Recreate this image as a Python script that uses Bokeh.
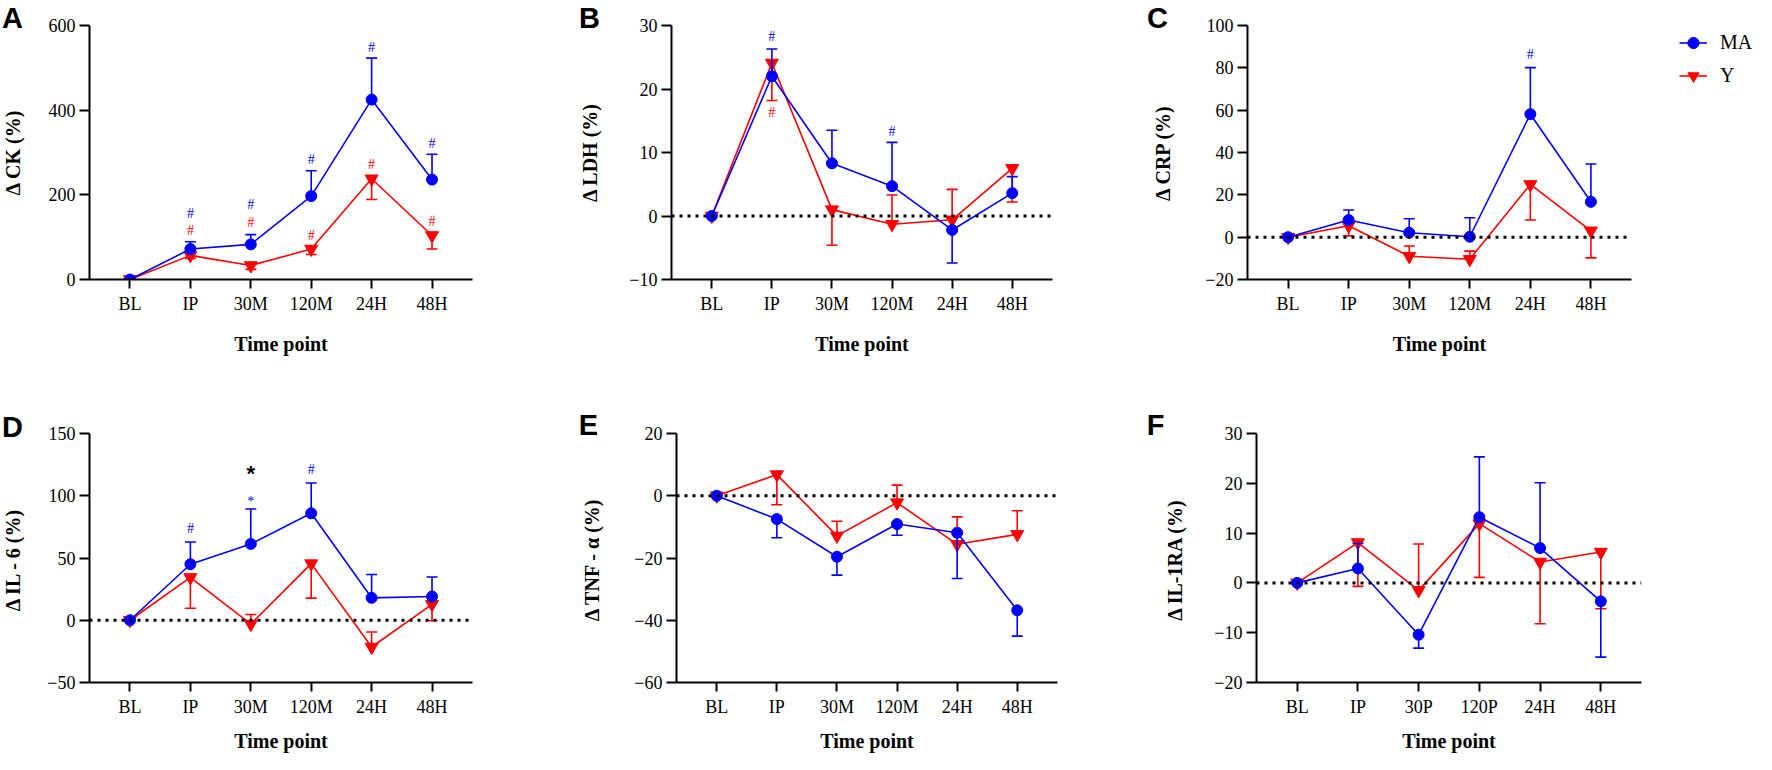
import math
from bokeh.plotting import figure
from bokeh.models import ColumnDataSource, FixedTicker, Span, Legend, LegendItem
from bokeh.layouts import row, column
from bokeh.embed import file_html
from bokeh.resources import INLINE
from bokeh.core.properties import value

# ---------------- data ----------------
time_points = ["BL", "IP", "30M", "120M", "24H", "48H"]
time_points_f = ["BL", "IP", "30P", "120P", "24H", "48H"]

# A: CK  (mean, end of error bar)
ck_ma = [0, 72, 83, 197, 425, 236]
ck_ma_bar = [0, 89, 106, 257, 523, 296]
ck_y = [0, 57, 33, 72, 238, 104]
ck_y_bar = [0, 50, 24, 59, 189, 72]

# B: LDH
ldh_ma = [0, 22.0, 8.3, 4.7, -2.2, 3.6]
ldh_ma_bar = [0, 26.3, 13.5, 11.6, -7.4, 6.2]
ldh_y = [0, 24.1, 1.0, -1.3, -0.6, 7.5]
ldh_y_bar = [0, 18.2, -4.6, 3.3, 4.2, 2.2]

# C: CRP
crp_ma = [0, 8.1, 2.1, 0.2, 58.1, 16.7]
crp_ma_bar = [0, 12.8, 8.7, 9.2, 80.1, 34.6]
crp_y = [0, 5.4, -9.0, -10.4, 24.9, 3.0]
crp_y_bar = [0, 0.6, -4.2, -6.6, 8.1, -9.8]

# D: IL-6
il6_ma = [0, 45.0, 61.3, 85.9, 18.0, 19.1]
il6_ma_bar = [0, 62.9, 89.3, 110.2, 36.8, 34.7]
il6_y = [0, 34.4, -3.1, 45.5, -21.5, 12.8]
il6_y_bar = [0, 9.6, 4.6, 17.8, -9.4, -0.4]

# E: TNF-alpha
tnf_ma = [0, -7.5, -19.6, -9.1, -11.9, -36.8]
tnf_ma_bar = [0, -13.5, -25.5, -12.7, -26.6, -45.1]
tnf_y = [0, 6.8, -12.9, -2.2, -15.6, -12.4]
tnf_y_bar = [0, -2.9, -8.2, 3.4, -6.8, -4.8]

# F: IL-1RA
il1ra_ma = [0, 2.9, -10.4, 13.2, 7.0, -3.7]
il1ra_ma_bar = [0, 7.9, -13.1, 25.3, 20.1, -14.9]
il1ra_y = [0, 8.1, -1.5, 11.9, 4.2, 6.2]
il1ra_y_bar = [0, -0.7, 7.8, 1.1, -8.2, -5.2]

# significance marks: (time index, y value, symbol, group)
ck_marks = [(1, 157, "#", "MA"), (1, 116, "#", "Y"), (2, 176, "#", "MA"), (2, 134, "#", "Y"),
            (3, 283, "#", "MA"), (3, 104, "#", "Y"), (4, 547, "#", "MA"), (4, 272, "#", "Y"),
            (5, 321, "#", "MA"), (5, 138, "#", "Y")]
ldh_marks = [(1, 28.3, "#", "MA"), (1, 16.3, "#", "Y"), (3, 13.3, "#", "MA")]
crp_marks = [(4, 86.4, "#", "MA")]
il6_marks = [(1, 74, "#", "MA"), (2, 98.3, "*", "MA"), (3, 121, "#", "MA")]
il6_between = [(2, 122.8, "*")]
tnf_marks = []
il1ra_marks = []

series_names = ["MA", "Y"]

BLUE = "#0000ff"
RED = "#ff0000"
SERIF = "Liberation Serif"
SANS = "Liberation Sans"
X0, X1 = -0.67, 5.67


def no_align(fig):
    try:
        fig.frame_align = False
    except Exception:
        pass
    return fig


def strip(letter, ylabel, w, h, letter_xy, title_xy):
    """Narrow figure left of a panel that holds the panel letter and the y-axis title."""
    s = figure(width=w, height=h, x_range=(0, w), y_range=(0, h), output_backend="svg",
               toolbar_location=None, min_border=0, x_axis_location=None, y_axis_location=None)
    no_align(s)
    s.outline_line_color = None
    s.grid.visible = False
    s.text(x=[letter_xy[0]], y=[h - letter_xy[1]], text=[letter], text_font=value(SANS),
           text_font_style="bold", text_font_size="29px", text_color="black",
           text_align="center", text_baseline="top")
    s.text(x=[title_xy[0]], y=[h - title_xy[1]], text=[ylabel], text_font=value(SERIF),
           text_font_style="bold", text_font_size="20px", text_color="black",
           text_align="center", text_baseline="middle", angle=math.pi / 2)
    return s


def panel(cats, yr, yticks, ma, ma_bar, yy, yy_bar, marks,
          width, height, bl, br, bt, bb, xlab_standoff, zero_line, between=None):
    p = figure(width=width, height=height, x_range=(X0, X1), y_range=yr,
               output_backend="svg", toolbar_location=None,
               min_border_left=bl, min_border_right=br, min_border_top=bt, min_border_bottom=bb)
    no_align(p)
    p.outline_line_color = None
    p.grid.visible = False
    p.background_fill_color = "white"

    xs = list(range(len(cats)))
    p.xaxis.ticker = FixedTicker(ticks=xs)
    p.xaxis.major_label_overrides = {i: c for i, c in enumerate(cats)}
    p.yaxis.ticker = FixedTicker(ticks=yticks)
    for ax in (p.xaxis[0], p.yaxis[0]):
        ax.axis_line_width = 2
        ax.axis_line_color = "black"
        ax.major_tick_line_width = 2
        ax.major_tick_line_color = "black"
        ax.major_tick_in = 0
        ax.minor_tick_line_color = None
        ax.major_label_text_font = SERIF
        ax.major_label_text_font_size = "18px"
        ax.major_label_text_color = "black"
        ax.axis_label_text_font = SERIF
        ax.axis_label_text_font_style = "bold"
        ax.axis_label_text_font_size = "20px"
        ax.axis_label_text_color = "black"
    p.xaxis.major_tick_out = 9
    p.xaxis.major_label_standoff = 5
    p.xaxis.axis_label = "Time point"
    p.xaxis.axis_label_standoff = xlab_standoff
    p.yaxis.major_tick_out = 10
    p.yaxis.major_label_standoff = 4

    if zero_line:
        p.add_layout(Span(location=0, dimension="width", line_color="black",
                          line_width=3, line_dash="3 5"))

    for vals, bars, color, marker, size in ((yy, yy_bar, RED, "inverted_triangle", 13),
                                             (ma, ma_bar, BLUE, "circle", 11)):
        src = ColumnDataSource(dict(x=xs, y=vals, b=bars))
        p.line("x", "y", source=src, line_color=color, line_width=1.6)
        p.segment(x0="x", y0="y", x1="x", y1="b", source=src, line_color=color, line_width=1.6)
        p.scatter("x", "b", source=src, marker="dash", size=11, line_color=color, line_width=1.6)
        p.scatter("x", "y", source=src, marker=marker, size=size, fill_color=color, line_color=color)

    if marks:
        msrc = ColumnDataSource(dict(
            x=[m[0] for m in marks], y=[m[1] for m in marks], t=[m[2] for m in marks],
            c=[BLUE if m[3] == "MA" else RED for m in marks],
            off=[4 if m[2] == "*" else 0 for m in marks]))
        p.text("x", "y", text="t", source=msrc, text_color="c", text_font=value(SERIF),
               text_font_size="14px", text_align="center", text_baseline="middle", y_offset="off")
    if between:
        bsrc = ColumnDataSource(dict(x=[m[0] for m in between], y=[m[1] for m in between],
                                     t=[m[2] for m in between]))
        p.text("x", "y", text="t", source=bsrc, text_color="black", text_font=value(SANS),
               text_font_style="bold", text_font_size="22px", text_align="center",
               text_baseline="middle", y_offset=6)
    return p


H1, H2 = 395, 359

# row 1
sa = strip("A", "Δ CK (%)", 44, H1, (12, 1), (12, 152))
pa = panel(time_points, (0, 600), [0, 200, 400, 600], ck_ma, ck_ma_bar, ck_y, ck_y_bar,
           ck_marks, 508, H1, 45, 80, 25, 116, 16, False)
sb = strip("B", "Δ LDH (%)", 70, H1, (37, 1), (37, 152))
pb = panel(time_points, (-10, 30), [-10, 0, 10, 20, 30], ldh_ma, ldh_ma_bar, ldh_y, ldh_y_bar,
           ldh_marks, 506, H1, 49, 76, 25, 116, 16, True)
sc = strip("C", "Δ CRP (%)", 74, H1, (29, 1), (34, 152))
pc = panel(time_points, (-20, 100), [-20, 0, 20, 40, 60, 80, 100], crp_ma, crp_ma_bar, crp_y,
           crp_y_bar, crp_marks, 449, H1, 45, 20, 25, 116, 16, True)

# legend panel
pl = figure(width=105, height=H1, x_range=(0, 1), y_range=(0, 1), output_backend="svg",
            toolbar_location=None, min_border=0, x_axis_location=None, y_axis_location=None)
no_align(pl)
pl.outline_line_color = None
pl.grid.visible = False
hidden = dict(x=[-5.0], y=[-5.0])
r1 = pl.line(x=hidden["x"], y=hidden["y"], line_color=BLUE, line_width=1.6)
s1 = pl.scatter(x=hidden["x"], y=hidden["y"], marker="circle", size=11, fill_color=BLUE, line_color=BLUE)
r2 = pl.line(x=hidden["x"], y=hidden["y"], line_color=RED, line_width=1.6)
s2 = pl.scatter(x=hidden["x"], y=hidden["y"], marker="inverted_triangle", size=13, fill_color=RED,
                line_color=RED)
legend = Legend(items=[LegendItem(label=value(series_names[0]), renderers=[r1, s1]),
                       LegendItem(label=value(series_names[1]), renderers=[r2, s2])],
                location="top_left", glyph_width=28, glyph_height=29, label_height=20, label_standoff=13,
                spacing=4, padding=0, margin=28, border_line_color=None, background_fill_alpha=0,
                label_text_font=SERIF, label_text_font_size="20px", label_text_color="black")
pl.add_layout(legend)

# row 2
sd = strip("D", "Δ IL - 6 (%)", 44, H2, (12, 15), (12, 164))
pd_ = panel(time_points, (-50, 150), [-50, 0, 50, 100, 150], il6_ma, il6_ma_bar, il6_y,
            il6_y_bar, il6_marks, 508, H2, 45, 80, 38, 69, 10, True, between=il6_between)
se = strip("E", "Δ TNF - α (%)", 75, H2, (36, 13), (39, 164))
pe = panel(time_points, (-60, 20), [-60, -40, -20, 0, 20], tnf_ma, tnf_ma_bar, tnf_y,
           tnf_y_bar, tnf_marks, 501, H2, 49, 71, 38, 69, 10, True)
sf = strip("F", "Δ IL-1RA (%)", 79, H2, (27, 13), (46, 164))
pf = panel(time_points_f, (-20, 30), [-20, -10, 0, 10, 20, 30], il1ra_ma, il1ra_ma_bar,
           il1ra_y, il1ra_y_bar, il1ra_marks, 549, H2, 49, 115, 38, 69, 10, True)

layout = column(row(sa, pa, sb, pb, sc, pc, pl), row(sd, pd_, se, pe, sf, pf))
open("out.html", "w").write(file_html(layout, INLINE))
